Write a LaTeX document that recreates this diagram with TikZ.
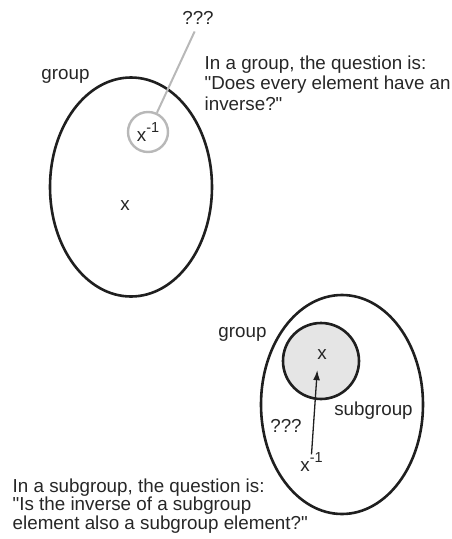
\documentclass[tikz,border=0pt]{standalone}
\usepackage{fontspec}
\setmainfont{Liberation Sans}
\usetikzlibrary{shapes.geometric,arrows.meta}
\newcommand{\xinv}{x\raisebox{0.45em}{\fontsize{14.5}{14.5}\selectfont -1}}
\newcommand{\sq}{\textquotedbl}
\tikzset{
  set/.style={draw=black!88, line width=2.6pt, ellipse, inner sep=0pt,
    minimum width=162pt, minimum height=219pt},
  lbl/.style={inner sep=0pt, anchor=base, font=\fontsize{18.8}{20}\selectfont, text=black!85},
  para/.style={inner sep=0pt, anchor=north west, align=left, text=black!85},
  qcircle/.style={circle, draw=black!28, line width=2.4pt, minimum size=40pt, inner sep=0pt,
    font=\fontsize{18.8}{20}\selectfont, text=black!85},
  subcircle/.style={circle, draw=black!88, fill=black!10, line width=2.6pt, minimum size=76pt, inner sep=0pt},
  grayline/.style={draw=black!28, line width=2pt},
  arrowline/.style={draw=black!88, line width=1.3pt, -{Latex[length=10pt,width=7pt]}},
}
\begin{document}
\begin{tikzpicture}[x=1pt,y=-1pt]
\useasboundingbox (0,0) rectangle (452,539);
% top group
\node[set] (g1) at (131,187) {};
\node[lbl] (g1lbl) at (65.5,79) {group};
\node[qcircle] (inv1) at (148,132) {\xinv};
\node[lbl] (q1) at (198,24) {???};
\draw[grayline, shorten >=8pt] (inv1) -- (q1.south);
\node[lbl] (x1) at (125,210) {x};
\node[para, font=\fontsize{18.8}{20.5}\selectfont] (t1) at (204.5,55.3)
  {In a group, the question is:\\\sq Does every element have an\\inverse?\sq};
% bottom group
\node[set] (g2) at (342,404.5) {};
\node[lbl] (g2lbl) at (242.5,337) {group};
\node[subcircle] (sub) at (321,361) {};
\node[lbl] (x2) at (322,359) {x};
\node[lbl] (sublbl) at (373.5,415) {subgroup};
\node[lbl] (q2) at (286,432) {???};
\node[lbl] (inv2) at (311.5,471) {\xinv};
\draw[arrowline, shorten >=11pt] ([yshift=-2pt]inv2.north) -- ([xshift=-4pt]x2.south);
\node[para, font=\fontsize{18.8}{18.6}\selectfont] (t2) at (12.5,478.3)
  {In a subgroup, the question is:\\\sq Is the inverse of a subgroup\\element also a subgroup element?\sq};
\end{tikzpicture}
\end{document}
